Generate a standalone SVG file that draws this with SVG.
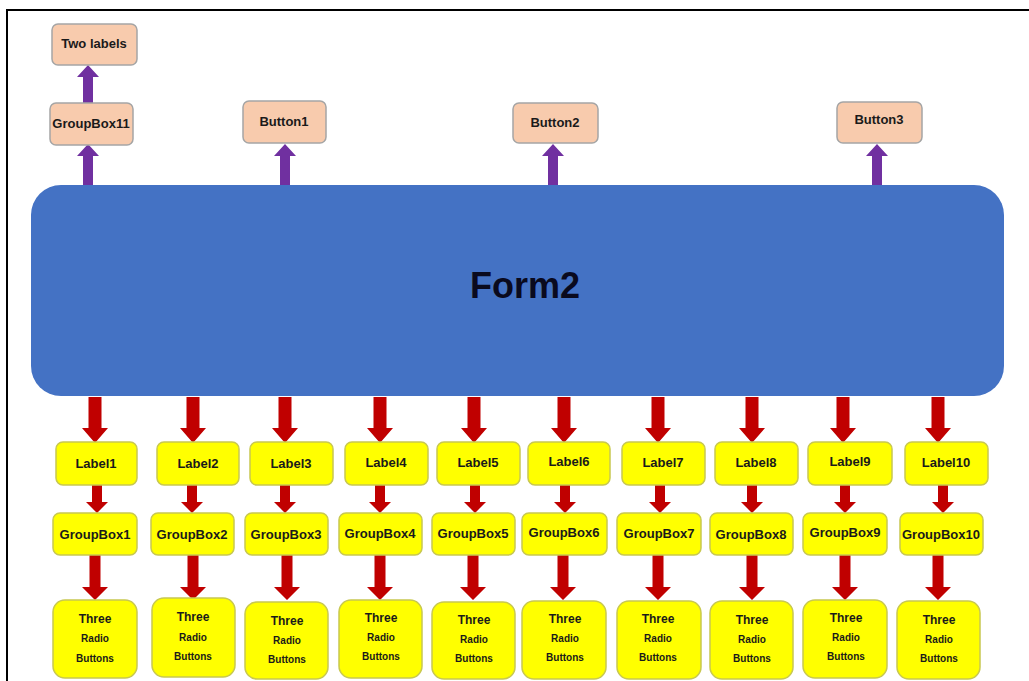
<svg xmlns="http://www.w3.org/2000/svg" xmlns:xlink="http://www.w3.org/1999/xlink" width="1029" height="681" viewBox="0 0 1029 681">
<style>
.frame{stroke:#000;stroke-width:2;fill:none}
.form{fill:#4472C4}
.peach{fill:#F8CBAD;stroke:#A5A5A5;stroke-width:1.5}
.yel{fill:#FFFF00;stroke:#C8C850;stroke-width:1.5}
.red{fill:#C00000}
.pur{fill:#7030A0}
text{font-family:"Liberation Sans",Arial,sans-serif;font-weight:bold;fill:#1a1a1a;text-anchor:middle}
.t13{font-size:13px}
.t12{font-size:12px}
.t10{font-size:10px}
.big{font-size:36px;fill:#0a0a1e}
</style>
<defs>
<polygon id="arrA" points="-6.5,397 6.5,397 6.5,428 13,428 0,443 -13,428 -6.5,428"/>
<polygon id="arrB" points="-5,485 5,485 5,502 11,502 0,513 -11,502 -5,502"/>
<polygon id="arrC" points="-5.5,555 5.5,555 5.5,587 13,587 0,600 -13,587 -5.5,587"/>
<polygon id="arrP1" points="-5,185 5,185 5,156 11,156 0,144 -11,156 -5,156"/>
<polygon id="arrP2" points="-5,103 5,103 5,77 11,77 0,65 -11,77 -5,77"/>
</defs>
<rect width="1029" height="681" fill="#fff"/>
<path class="frame" d="M7,681 V10 H1029"/>

<g id="connectors">
<g class="pur">
<use xlink:href="#arrP2" x="88"/>
<use xlink:href="#arrP1" x="88"/>
<use xlink:href="#arrP1" x="285"/>
<use xlink:href="#arrP1" x="553"/>
<use xlink:href="#arrP1" x="877"/>
</g>
<g class="red">
<use xlink:href="#arrA" x="95"/>
<use xlink:href="#arrA" x="193"/>
<use xlink:href="#arrA" x="285"/>
<use xlink:href="#arrA" x="380"/>
<use xlink:href="#arrA" x="474"/>
<use xlink:href="#arrA" x="564"/>
<use xlink:href="#arrA" x="658"/>
<use xlink:href="#arrA" x="752"/>
<use xlink:href="#arrA" x="843"/>
<use xlink:href="#arrA" x="938"/>
<use xlink:href="#arrB" x="97"/>
<use xlink:href="#arrB" x="192"/>
<use xlink:href="#arrB" x="285"/>
<use xlink:href="#arrB" x="380"/>
<use xlink:href="#arrB" x="475"/>
<use xlink:href="#arrB" x="565"/>
<use xlink:href="#arrB" x="660"/>
<use xlink:href="#arrB" x="752"/>
<use xlink:href="#arrB" x="845"/>
<use xlink:href="#arrB" x="943"/>
<use xlink:href="#arrC" x="95"/>
<use xlink:href="#arrC" x="193"/>
<use xlink:href="#arrC" x="287"/>
<use xlink:href="#arrC" x="380"/>
<use xlink:href="#arrC" x="473"/>
<use xlink:href="#arrC" x="563"/>
<use xlink:href="#arrC" x="658"/>
<use xlink:href="#arrC" x="752"/>
<use xlink:href="#arrC" x="845"/>
<use xlink:href="#arrC" x="938"/>
</g>
</g>

<g id="form2"><rect class="form" x="31" y="185" width="973" height="211" rx="30"/><text class="big" x="525" y="298">Form2</text></g>

<g id="twolabels"><rect class="peach" x="52" y="24" width="85" height="41" rx="6"/><text class="t13" x="94" y="48">Two labels</text></g>
<g id="groupbox11"><rect class="peach" x="50" y="103" width="83" height="42" rx="6"/><text class="t13" x="91" y="128">GroupBox11</text></g>
<g id="button1"><rect class="peach" x="243" y="101" width="83" height="42" rx="6"/><text class="t13" x="284" y="126">Button1</text></g>
<g id="button2"><rect class="peach" x="513" y="103" width="85" height="40" rx="6"/><text class="t13" x="555" y="127">Button2</text></g>
<g id="button3"><rect class="peach" x="837" y="102" width="85" height="41" rx="6"/><text class="t13" x="879" y="124">Button3</text></g>

<g id="label1"><rect class="yel" x="56" y="442" width="81" height="43" rx="7"/><text class="t13" x="96" y="468">Label1</text></g>
<g id="label2"><rect class="yel" x="157" y="442" width="82" height="43" rx="7"/><text class="t13" x="198" y="468">Label2</text></g>
<g id="label3"><rect class="yel" x="250" y="442" width="83" height="43" rx="7"/><text class="t13" x="291" y="468">Label3</text></g>
<g id="label4"><rect class="yel" x="345" y="442" width="83" height="43" rx="7"/><text class="t13" x="386" y="467">Label4</text></g>
<g id="label5"><rect class="yel" x="437" y="442" width="83" height="43" rx="7"/><text class="t13" x="478" y="467">Label5</text></g>
<g id="label6"><rect class="yel" x="528" y="442" width="82" height="43" rx="7"/><text class="t13" x="569" y="466">Label6</text></g>
<g id="label7"><rect class="yel" x="622" y="442" width="83" height="43" rx="7"/><text class="t13" x="663" y="467">Label7</text></g>
<g id="label8"><rect class="yel" x="715" y="442" width="83" height="43" rx="7"/><text class="t13" x="756" y="467">Label8</text></g>
<g id="label9"><rect class="yel" x="808" y="442" width="84" height="43" rx="7"/><text class="t13" x="850" y="466">Label9</text></g>
<g id="label10"><rect class="yel" x="905" y="442" width="83" height="43" rx="7"/><text class="t13" x="946" y="467">Label10</text></g>

<g id="groupbox1"><rect class="yel" x="53" y="513" width="84" height="42" rx="7"/><text class="t13" x="95" y="539">GroupBox1</text></g>
<g id="groupbox2"><rect class="yel" x="151" y="513" width="83" height="42" rx="7"/><text class="t13" x="192" y="539">GroupBox2</text></g>
<g id="groupbox3"><rect class="yel" x="245" y="513" width="83" height="42" rx="7"/><text class="t13" x="286" y="539">GroupBox3</text></g>
<g id="groupbox4"><rect class="yel" x="339" y="513" width="83" height="42" rx="7"/><text class="t13" x="380" y="538">GroupBox4</text></g>
<g id="groupbox5"><rect class="yel" x="432" y="513" width="83" height="42" rx="7"/><text class="t13" x="473" y="538">GroupBox5</text></g>
<g id="groupbox6"><rect class="yel" x="522" y="513" width="85" height="42" rx="7"/><text class="t13" x="564" y="537">GroupBox6</text></g>
<g id="groupbox7"><rect class="yel" x="617" y="513" width="84" height="42" rx="7"/><text class="t13" x="659" y="538">GroupBox7</text></g>
<g id="groupbox8"><rect class="yel" x="710" y="513" width="83" height="42" rx="7"/><text class="t13" x="751" y="539">GroupBox8</text></g>
<g id="groupbox9"><rect class="yel" x="803" y="513" width="84" height="42" rx="7"/><text class="t13" x="845" y="537">GroupBox9</text></g>
<g id="groupbox10"><rect class="yel" x="900" y="513" width="83" height="42" rx="7"/><text class="t13" x="941" y="539">GroupBox10</text></g>

<g id="three1"><rect class="yel" x="53" y="600" width="84" height="78" rx="12"/><text class="t12" x="95" y="623">Three</text><text class="t10" x="95" y="642">Radio</text><text class="t10" x="95" y="662">Buttons</text></g>
<g id="three2"><rect class="yel" x="152" y="598" width="83" height="79" rx="12"/><text class="t12" x="193" y="621">Three</text><text class="t10" x="193" y="641">Radio</text><text class="t10" x="193" y="660">Buttons</text></g>
<g id="three3"><rect class="yel" x="245" y="602" width="83" height="77" rx="12"/><text class="t12" x="287" y="625">Three</text><text class="t10" x="287" y="644">Radio</text><text class="t10" x="287" y="663">Buttons</text></g>
<g id="three4"><rect class="yel" x="339" y="600" width="83" height="78" rx="12"/><text class="t12" x="381" y="622">Three</text><text class="t10" x="381" y="641">Radio</text><text class="t10" x="381" y="660">Buttons</text></g>
<g id="three5"><rect class="yel" x="432" y="602" width="83" height="77" rx="12"/><text class="t12" x="474" y="624">Three</text><text class="t10" x="474" y="643">Radio</text><text class="t10" x="474" y="662">Buttons</text></g>
<g id="three6"><rect class="yel" x="522" y="601" width="84" height="78" rx="12"/><text class="t12" x="565" y="623">Three</text><text class="t10" x="565" y="642">Radio</text><text class="t10" x="565" y="661">Buttons</text></g>
<g id="three7"><rect class="yel" x="617" y="601" width="84" height="78" rx="12"/><text class="t12" x="658" y="623">Three</text><text class="t10" x="658" y="642">Radio</text><text class="t10" x="658" y="661">Buttons</text></g>
<g id="three8"><rect class="yel" x="710" y="601" width="83" height="78" rx="12"/><text class="t12" x="752" y="624">Three</text><text class="t10" x="752" y="643">Radio</text><text class="t10" x="752" y="662">Buttons</text></g>
<g id="three9"><rect class="yel" x="803" y="600" width="84" height="78" rx="12"/><text class="t12" x="846" y="622">Three</text><text class="t10" x="846" y="641">Radio</text><text class="t10" x="846" y="660">Buttons</text></g>
<g id="three10"><rect class="yel" x="897" y="601" width="83" height="78" rx="12"/><text class="t12" x="939" y="624">Three</text><text class="t10" x="939" y="643">Radio</text><text class="t10" x="939" y="662">Buttons</text></g>
</svg>
